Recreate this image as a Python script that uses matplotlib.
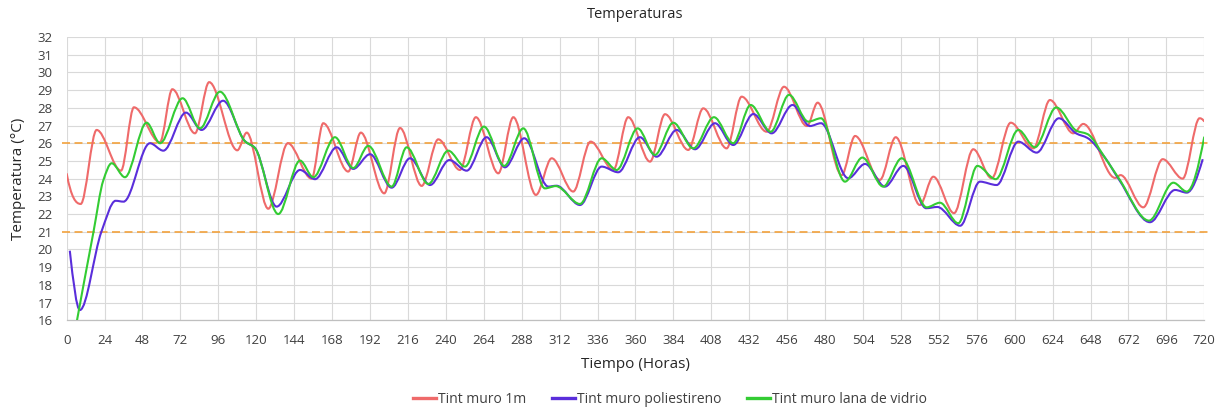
import numpy as np
import matplotlib
matplotlib.use("Agg")
import matplotlib.pyplot as plt
from matplotlib.path import Path
from matplotlib.patches import PathPatch
from matplotlib.lines import Line2D

plt.rcParams['font.family'] = ['Open Sans', 'DejaVu Sans']

# --- data: turning points of each indoor-temperature series (hour, °C) ---
horas_1m = [0, 8.9, 19.0, 34.4, 42.6, 59.0, 66.9, 81.2, 90.2, 108.0, 114.0, 127.6,
            140.0, 155.0, 162.4, 178.2, 186.2, 201.0, 211.0, 224.7, 235.2, 248.9,
            259.0, 273.2, 282.7, 297.0, 307.0, 320.6, 331.6, 346.0, 355.4, 369.2,
            378.7, 393.4, 402.9, 417.7, 427.2, 443.0, 454.0, 468.5, 475.3, 490.5,
            499.0, 514.7, 524.7, 540.0, 548.5, 561.6, 573.8, 585.4, 597.5, 611.8,
            622.3, 637.1, 643.4, 663.6, 667.0, 681.4, 693.7, 706.3, 717.0, 720.0]
temp_1m = [24.3, 22.57, 26.75, 24.45, 28.03, 26.05, 29.05, 26.56, 29.45, 25.6, 26.6, 22.3,
           26.0, 24.0, 27.13, 24.4, 26.6, 23.17, 26.86, 23.59, 26.22, 24.49,
           27.47, 24.3, 27.47, 23.08, 25.15, 23.27, 26.09, 24.49, 27.47, 24.96,
           27.64, 25.62, 27.97, 25.71, 28.63, 26.65, 29.19, 26.97, 28.29, 24.2,
           26.41, 23.93, 26.34, 22.51, 24.11, 22.05, 25.66, 24.02, 27.16, 25.71,
           28.44, 26.56, 27.09, 24.04, 24.2, 22.38, 25.1, 24.0, 27.41, 27.22]

horas_poli = [2.0, 8.4, 22.0, 31.0, 36.0, 52.7, 61.2, 75.5, 85.4, 99.0, 113.0, 119.0,
              132.9, 147.7, 157.2, 170.9, 181.4, 192.0, 205.7, 217.3, 230.0, 242.2,
              253.2, 265.8, 277.4, 289.6, 304.8, 310.0, 324.9, 338.6, 349.1, 362.8,
              373.4, 386.1, 397.7, 410.3, 421.9, 434.6, 446.2, 459.4, 470.4, 477.4,
              494.7, 505.3, 517.9, 529.5, 544.0, 551.0, 565.5, 578.0, 588.6, 602.3,
              613.9, 628.0, 639.0, 646.0, 657.0, 666.0, 685.6, 701.5, 708.9, 719.0]
temp_poli = [19.93, 16.58, 21.0, 22.75, 22.7, 26.0, 25.58, 27.73, 26.75, 28.4, 26.1, 25.75,
             22.42, 24.49, 23.97, 25.77, 24.55, 25.38, 23.49, 25.15, 23.64, 25.05,
             24.45, 26.34, 24.64, 26.28, 23.55, 23.6, 22.51, 24.68, 24.36, 26.34,
             25.24, 26.75, 25.66, 27.13, 25.9, 27.65, 26.56, 28.16, 26.97, 27.13,
             24.02, 24.83, 23.55, 24.72, 22.33, 22.4, 21.34, 23.83, 23.64, 26.09,
             25.47, 27.41, 26.55, 26.3, 25.2, 23.95, 21.54, 23.36, 23.21, 25.1]

horas_lana = [4.5, 17.0, 23.2, 28.5, 36.9, 50.6, 59.1, 73.4, 84.4, 97.0, 113.0, 119.0,
              133.9, 147.7, 156.1, 169.8, 181.4, 190.9, 205.7, 215.2, 228.9, 241.5,
              252.1, 264.1, 277.0, 289.0, 302.7, 309.5, 324.9, 338.6, 348.1, 361.4,
              372.3, 383.9, 396.6, 409.7, 421.9, 432.9, 445.6, 457.2, 469.4, 477.4,
              492.6, 503.6, 516.8, 528.5, 544.3, 552.7, 564.3, 576.4, 588.0, 602.3,
              612.8, 626.3, 639.2, 646.0, 657.0, 666.0, 685.0, 700.4, 708.9, 720.0]
temp_lana = [15.0, 21.0, 23.9, 24.87, 24.08, 27.16, 26.0, 28.54, 26.84, 28.91, 26.1, 25.75,
             22.0, 25.02, 24.08, 26.34, 24.6, 25.85, 23.55, 25.77, 23.7, 25.58,
             24.68, 26.94, 24.72, 26.84, 23.45, 23.58, 22.57, 25.15, 24.49, 26.84,
             25.34, 27.16, 25.71, 27.47, 26.0, 28.16, 26.65, 28.73, 27.22, 27.41,
             23.83, 25.19, 23.55, 25.15, 22.38, 22.64, 21.48, 24.72, 23.97, 26.75,
             25.77, 28.02, 26.7, 26.52, 25.2, 24.0, 21.63, 23.77, 23.27, 26.37]

limites = [21, 26]
x_ticks = list(range(0, 721, 24))
y_ticks = list(range(16, 33))

series = [
    ("Tint muro 1m", horas_1m, temp_1m, "#EF6A6A"),
    ("Tint muro poliestireno", horas_poli, temp_poli, "#5A2EDB"),
    ("Tint muro lana de vidrio", horas_lana, temp_lana, "#33CC33"),
]


def _end_slope(h0, h1, d0, d1):
    m = ((2 * h0 + h1) * d0 - h0 * d1) / (h0 + h1)
    if np.sign(m) != np.sign(d0):
        return 0.0
    if np.sign(d0) != np.sign(d1) and abs(m) > 3 * abs(d0):
        return 3 * d0
    return m


def monotone_slopes(x, y):
    h = np.diff(x)
    d = np.diff(y) / h
    m = np.zeros(len(x))
    for k in range(1, len(x) - 1):
        if d[k - 1] * d[k] > 0:
            w1 = 2 * h[k] + h[k - 1]
            w2 = h[k] + 2 * h[k - 1]
            m[k] = (w1 + w2) / (w1 / d[k - 1] + w2 / d[k])
    m[0] = _end_slope(h[0], h[1], d[0], d[1])
    m[-1] = _end_slope(h[-1], h[-2], d[-1], d[-2])
    return m


def smooth_path(x, y):
    """Smoothed line through the points, as cubic Bezier segments."""
    x = np.asarray(x, float)
    y = np.asarray(y, float)
    m = monotone_slopes(x, y)
    verts = [(x[0], y[0])]
    codes = [Path.MOVETO]
    for i in range(len(x) - 1):
        h = x[i + 1] - x[i]
        verts += [(x[i] + h / 3, y[i] + m[i] * h / 3),
                  (x[i + 1] - h / 3, y[i + 1] - m[i + 1] * h / 3),
                  (x[i + 1], y[i + 1])]
        codes += [Path.CURVE4] * 3
    return Path(verts, codes)


fig = plt.figure(figsize=(12.25, 4.11), dpi=100)
ax = fig.add_axes([0.0544, 0.2207, 0.9287, 0.6893])

ax.set_xlim(0, 720)
ax.set_ylim(16, 32)
ax.set_xticks(x_ticks)
ax.set_yticks(y_ticks)
ax.grid(True, color="#D9D9D9", linewidth=0.8)
ax.set_axisbelow(True)
for side in ("top", "left", "right"):
    ax.spines[side].set_visible(False)
ax.spines["bottom"].set_color("#BFBFBF")
ax.spines["bottom"].set_linewidth(0.9)
ax.tick_params(axis="both", length=0, labelsize=9.5, colors="#404040")
ax.tick_params(axis="x", pad=10)
ax.tick_params(axis="y", pad=10)

for lim in limites:
    ax.hlines(lim, -3, 724, colors="#F2A544", linewidth=1.25,
              linestyles=(0, (4.6, 2.6)), clip_on=False, zorder=2)

handles = []
for nombre, hx, ty, color in series:
    ax.add_patch(PathPatch(smooth_path(hx, ty), facecolor="none", edgecolor=color,
                           linewidth=1.5, zorder=3))
    handles.append(Line2D([], [], color=color, linewidth=2.4, label=nombre))

ax.set_title("Temperaturas", fontsize=10.5, color="#262626", pad=14)
ax.set_xlabel("Tiempo (Horas)", fontsize=11, color="#262626", labelpad=7)
ax.set_ylabel("Temperatura (°C)", fontsize=11, color="#262626", labelpad=8)

fig.legend(handles=handles, loc="lower center", bbox_to_anchor=(0.547, -0.02), ncol=3,
           frameon=False, fontsize=10, handlelength=1.6, handletextpad=0.15,
           columnspacing=1.9, labelcolor="#404040")

fig.savefig("out.png", dpi=100)
